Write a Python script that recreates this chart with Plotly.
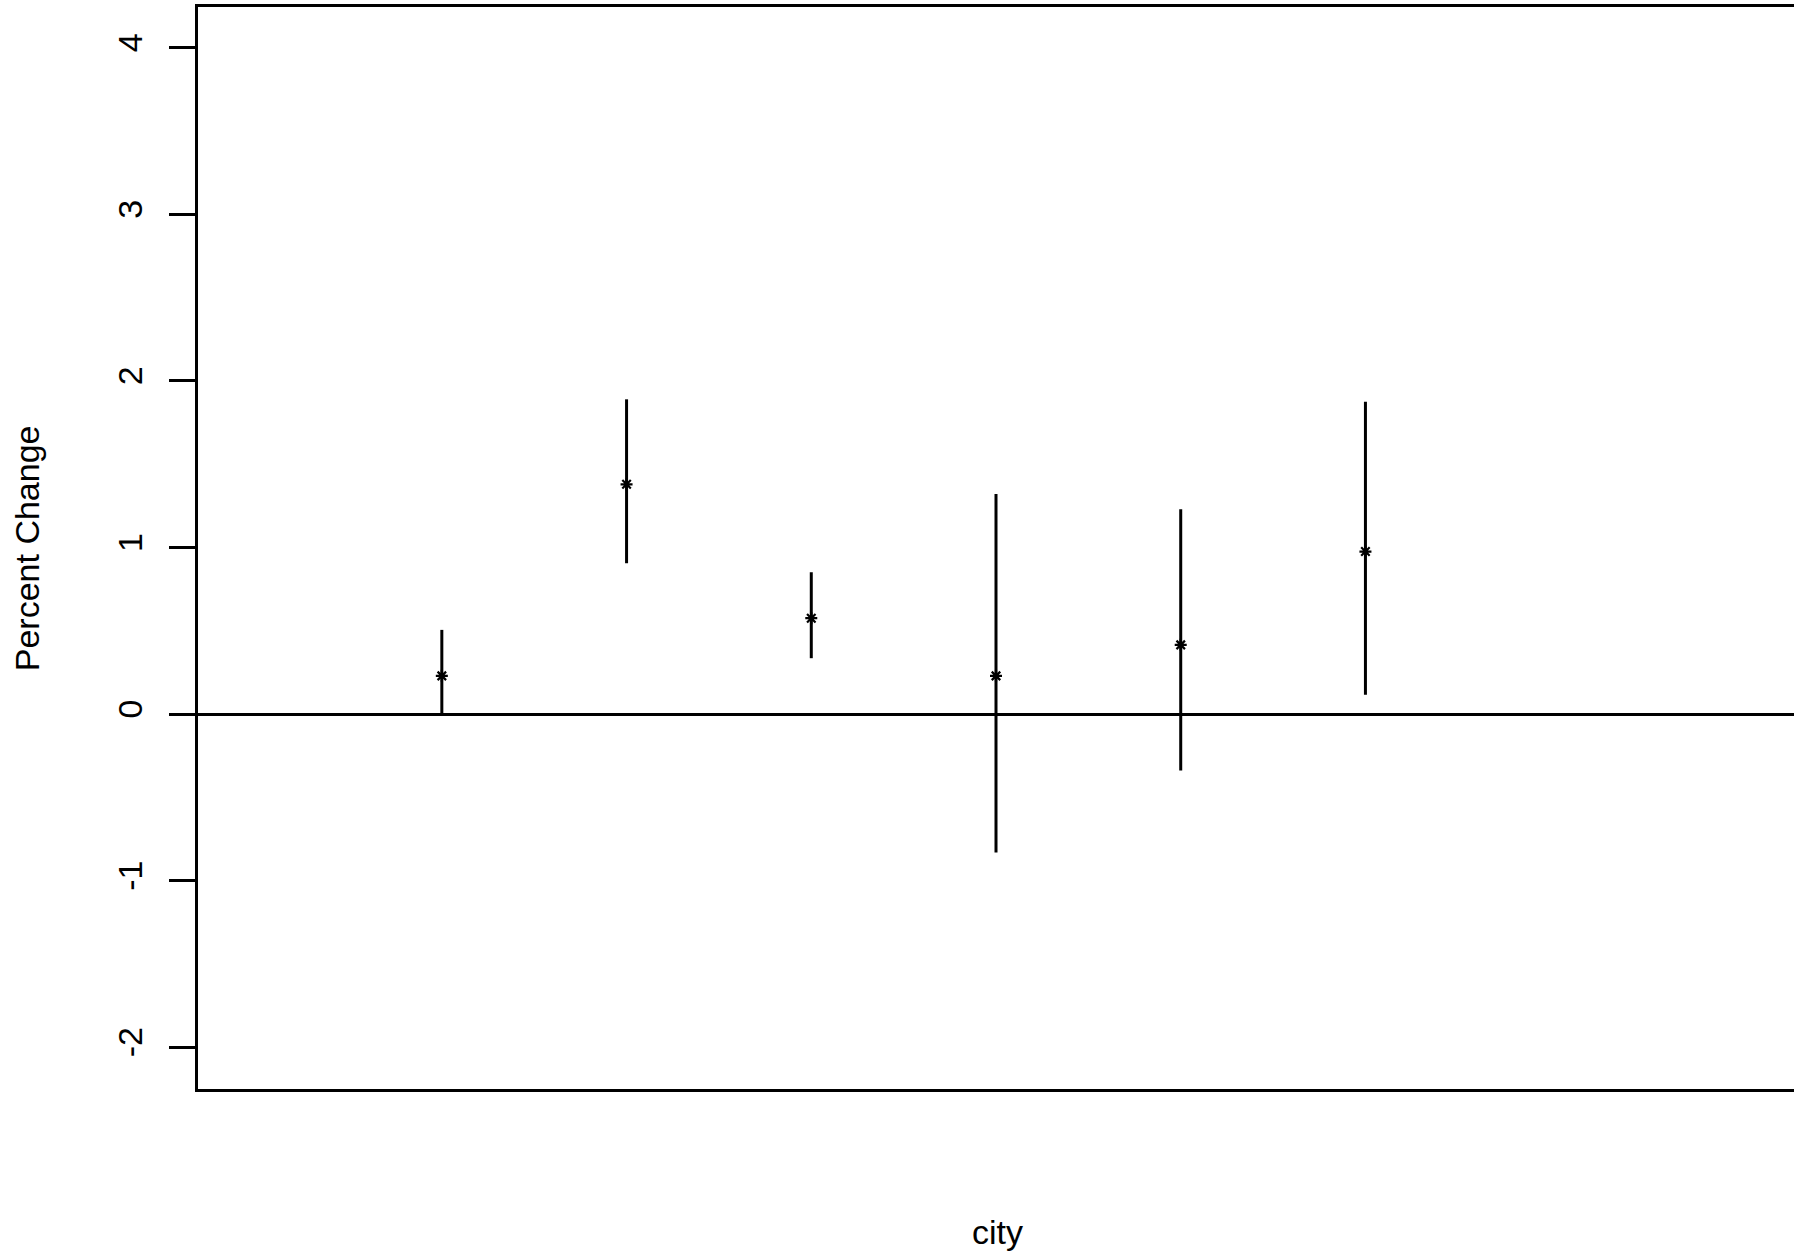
import plotly.graph_objects as go

# City index (no category names are printed on the x axis)
city_index = [1, 2, 3, 4, 5, 6]
# Point estimates and interval bounds for percent change
estimate = [0.23, 1.38, 0.576, 0.23, 0.416, 0.976]
lower = [-0.01, 0.906, 0.336, -0.83, -0.338, 0.116]
upper = [0.506, 1.89, 0.852, 1.322, 1.23, 1.876]
y_ticks = [-2, -1, 0, 1, 2, 3, 4]

FONT = "Liberation Sans, Arial, Helvetica, sans-serif"

err_plus = [u - e for u, e in zip(upper, estimate)]
err_minus = [e - l for e, l in zip(estimate, lower)]

fig = go.Figure()
fig.add_trace(go.Scatter(
    x=city_index,
    y=estimate,
    mode="markers",
    marker=dict(symbol="asterisk-open", size=10, color="black",
                line=dict(color="black", width=2.2)),
    error_y=dict(type="data", symmetric=False, array=err_plus,
                 arrayminus=err_minus, width=0, thickness=3, color="black"),
    showlegend=False,
    hoverinfo="skip",
))

fig.update_layout(
    width=1794,
    height=1256,
    margin=dict(l=198, r=0, t=7, b=167),
    paper_bgcolor="white",
    plot_bgcolor="white",
    font=dict(family=FONT, size=34, color="black"),
    xaxis=dict(
        range=[-0.32, 8.32],
        showgrid=False,
        zeroline=False,
        showticklabels=False,
        ticks="",
        showline=True,
        mirror=True,
        linecolor="black",
        linewidth=2.5,
    ),
    yaxis=dict(
        range=[-2.25, 4.245],
        tickvals=y_ticks,
        ticktext=[str(v) for v in y_ticks],
        tickangle=-90,
        ticks="outside",
        ticklen=26,
        tickwidth=2.5,
        tickcolor="black",
        ticklabelstandoff=14,
        showgrid=False,
        zeroline=True,
        zerolinecolor="black",
        zerolinewidth=2.5,
        showline=True,
        linecolor="black",
        linewidth=2.5,
        tickfont=dict(family=FONT, size=34, color="black"),
    ),
    annotations=[
        dict(text="city", xref="paper", yref="paper", x=0.5009, y=0,
             yshift=-122, xanchor="center", yanchor="top", showarrow=False,
             font=dict(family=FONT, size=34, color="black")),
        dict(text="Percent Change", xref="paper", yref="paper",
             x=-0.107, y=0.5, textangle=-90, xanchor="center",
             yanchor="middle", showarrow=False,
             font=dict(family=FONT, size=34, color="black")),
    ],
)

fig.write_html("out.html")
